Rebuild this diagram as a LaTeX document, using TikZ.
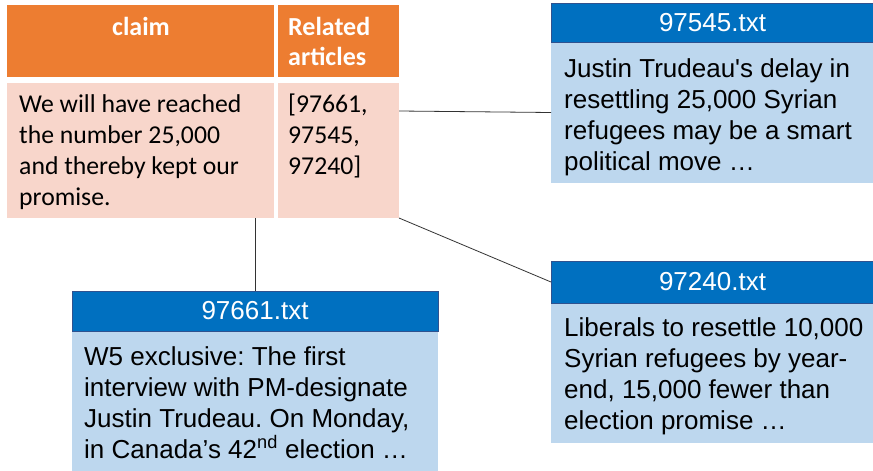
\documentclass[tikz,border=0pt]{standalone}
\usepackage{fontspec}
\setmainfont{Liberation Sans}
\newfontfamily\calfont{Carlito}
\definecolor{orhead}{HTML}{ED7D31}
\definecolor{orbody}{HTML}{F8D6CB}
\definecolor{bluehead}{HTML}{0070C0}
\definecolor{bluebody}{HTML}{BDD7EE}
\definecolor{blueedge}{HTML}{2F528F}
\frenchspacing
\begin{document}
\begin{tikzpicture}[x=1pt,y=-1pt,
  cell/.style={anchor=north west, inner sep=0pt, outer sep=0pt},
  thead/.style={cell, fill=orhead},
  tbody/.style={cell, fill=orbody},
  ttext/.style={inner sep=0pt, align=left, font=\calfont\fontsize{25.7}{31}\selectfont, text=black},
  hdtext/.style={inner sep=0pt, align=left, font=\calfont\bfseries\fontsize{26}{30}\selectfont, text=white},
  bhead/.style={cell, fill=bluehead, draw=blueedge, line width=0.8pt, text=white, font=\fontsize{26}{31}\selectfont},
  bbody/.style={cell, fill=bluebody},
  btext/.style={inner sep=0pt, align=left, font=\fontsize{26}{31}\selectfont, text=black},
  link/.style={draw=black!80, line width=0.8pt}]

\useasboundingbox[fill=white] (0,0) rectangle (873,471);

% table
\node[thead, minimum width=267pt, minimum height=72pt] (hclaim) at (7,5) {};
\node[thead, minimum width=121pt, minimum height=72pt] (hrel) at (278,5) {};
\node[tbody, minimum width=267pt, minimum height=135pt] (bclaim) at (7,83) {};
\node[tbody, minimum width=121pt, minimum height=135pt] (brel) at (278,83) {};

% (base anchor of a multi-line node = baseline of its last line)
\node[hdtext, anchor=base] (tclaim) at (141,35) {claim};
\node[hdtext, anchor=base west] (trel) at (288,65) {Related\\articles};
\node[ttext, anchor=base west] (tclaimbody) at (19,205) {We will have reached\\the number 25,000\\and thereby kept our\\promise.};
\node[ttext, anchor=base west] (trelbody) at (288,174) {[97661,\\97545,\\97240]};

% box 97545
\node[bbody, minimum width=323pt, minimum height=141pt] (b545body) at (551,42) {};
\node[bhead, minimum width=323pt, minimum height=39pt] (b545head) at (551,3) {97545.txt};
\node[btext, anchor=base west] (t545) at (564,170) {Justin Trudeau\textquotesingle s delay in\\resettling 25,000 Syrian\\refugees may be a smart\\political move \dots};

% box 97661
\node[bbody, minimum width=366pt, minimum height=141pt] (b661body) at (72,331) {};
\node[bhead, minimum width=366pt, minimum height=40pt] (b661head) at (72,291) {97661.txt};
\node[btext, anchor=base west] (t661) at (84,458) {W5 exclusive: The first\\interview with PM-designate\\Justin Trudeau. On Monday,\\in Canada’s 42\textsuperscript{nd} election \dots};

% box 97240
\node[bbody, minimum width=323pt, minimum height=140pt] (b240body) at (551,303) {};
\node[bhead, minimum width=323pt, minimum height=42pt] (b240head) at (551,261) {97240.txt};
\node[btext, anchor=base west] (t240) at (564,429) {Liberals to resettle 10,000\\Syrian refugees by year-\\end, 15,000 fewer than\\election promise \dots};

% connectors
\draw[link] ([yshift=-28pt]brel.north east) -- (b545body.west);
\draw[link] (brel.south east) -- (b240head.west);
\draw[link] (b661head.north) -- (b661head.north |- bclaim.south);
\end{tikzpicture}
\end{document}
